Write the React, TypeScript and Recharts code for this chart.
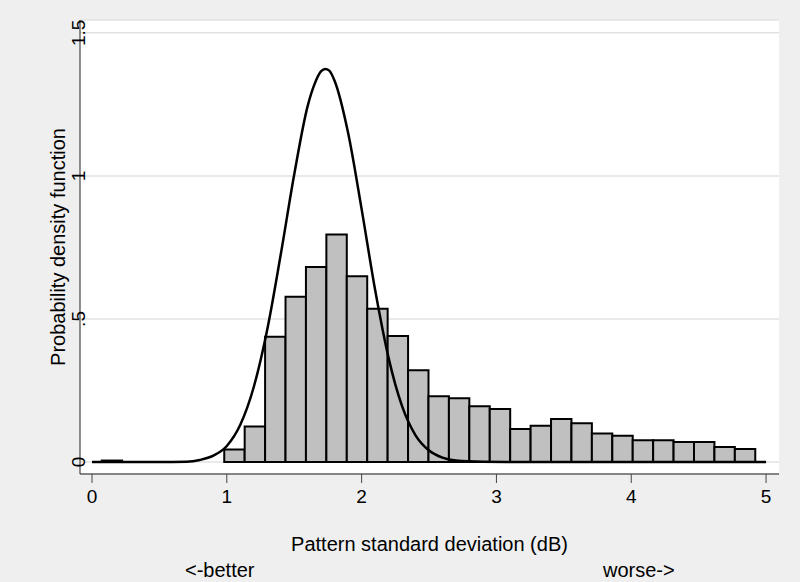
import React from 'react';
import { ComposedChart, Line, XAxis, YAxis, CartesianGrid, ReferenceArea } from 'recharts';

// Histogram bin edges (dB) and densities
const binEdges = [
  0.072, 0.2235, 0.375, 0.5265, 0.678, 0.8295, 0.981, 1.1325, 1.284, 1.4355, 1.587,
  1.7385, 1.89, 2.0415, 2.193, 2.3445, 2.496, 2.6475, 2.799, 2.9505, 3.102, 3.2535,
  3.405, 3.5565, 3.708, 3.8595, 4.011, 4.1625, 4.314, 4.4655, 4.617, 4.7685, 4.92,
];
const binHeights = [
  0.005, 0, 0, 0, 0, 0, 0.044, 0.124, 0.438, 0.578, 0.682, 0.795, 0.649, 0.536, 0.44, 0.321,
  0.23, 0.223, 0.195, 0.185, 0.115, 0.127, 0.15, 0.135, 0.1, 0.092, 0.076, 0.076, 0.07, 0.07,
  0.052, 0.045,
];

// Normal density curve
const curveX = [0, 0.5, 0.7, 0.8, 0.9, 1.0, 1.1, 1.2, 1.3, 1.4, 1.5, 1.6, 1.65, 1.7, 1.73, 1.76, 1.8, 1.9, 2.0, 2.1, 2.2, 2.3, 2.4, 2.5, 2.6, 2.7, 2.9, 3.2, 5.0];
const curveY = [0, 0, 0.001, 0.007, 0.022, 0.056, 0.13, 0.262, 0.463, 0.725, 1.005, 1.245, 1.32, 1.366, 1.374, 1.368, 1.332, 1.15, 0.884, 0.602, 0.364, 0.195, 0.093, 0.04, 0.015, 0.005, 0.001, 0, 0];

const xTicks = [0, 1, 2, 3, 4, 5];
const yTicks = [0, 0.5, 1, 1.5];
const yTickLabels = ['0', '.5', '1', '1.5'];

const xTitle = 'Pattern standard deviation (dB)';
const yTitle = 'Probability density function';
const leftNote = '<-better';
const rightNote = 'worse->';

const FONT = '"Liberation Sans", Arial, Helvetica, sans-serif';

const curveData = curveX.map((x, i) => ({ x, y: curveY[i] }));

const YTick = (props: any) => {
  const { x, y, payload } = props;
  const idx = yTicks.indexOf(payload.value);
  const cx = x - 1;
  return (
    <text
      x={cx}
      y={y}
      transform={`rotate(-90 ${cx} ${y})`}
      textAnchor="middle"
      dominantBaseline="central"
      fontSize={19}
      fontFamily={FONT}
      fill="#000"
    >
      {idx >= 0 ? yTickLabels[idx] : String(payload.value)}
    </text>
  );
};

const XTick = (props: any) => {
  const { x, y, payload } = props;
  return (
    <text x={x} y={y} dy={20} textAnchor="middle" fontSize={19} fontFamily={FONT} fill="#000">
      {String(payload.value)}
    </text>
  );
};

export default function App() {
  return (
    <div style={{ position: 'absolute', left: 0, top: 0, width: 800, height: 582, background: '#efefef' }}>
      <ComposedChart
        width={800}
        height={582}
        data={curveData}
        margin={{ top: 20, right: 21, left: 20, bottom: 78 }}
      >
        <CartesianGrid vertical={false} stroke="#e2e2e2" strokeWidth={1.5} fill="#ffffff" />
        <XAxis
          type="number"
          dataKey="x"
          domain={[-0.089, 5.096]}
          ticks={xTicks}
          allowDataOverflow
          height={30}
          tickSize={9}
          tickMargin={0}
          axisLine={{ stroke: '#222', strokeWidth: 1 }}
          tickLine={{ stroke: '#444', strokeWidth: 1 }}
          tick={<XTick />}
          interval={0}
        />
        <YAxis
          type="number"
          domain={[-0.042, 1.545]}
          ticks={yTicks}
          allowDataOverflow
          width={60}
          tickSize={0}
          tickMargin={0}
          axisLine={{ stroke: '#222', strokeWidth: 1 }}
          tickLine={false}
          tick={<YTick />}
          interval={0}
        />
        {binHeights.map((h, i) =>
          h > 0 ? (
            <ReferenceArea
              key={i}
              x1={binEdges[i]}
              x2={binEdges[i + 1]}
              y1={0}
              y2={h}
              fill="#c0c0c0"
              fillOpacity={1}
              stroke="#000"
              strokeWidth={2}
              ifOverflow="visible"
            />
          ) : null
        )}
        <Line
          type="monotone"
          dataKey="y"
          stroke="#000"
          strokeWidth={2.5}
          dot={false}
          isAnimationActive={false}
        />
      </ComposedChart>
      <svg
        width={800}
        height={582}
        style={{ position: 'absolute', left: 0, top: 0, pointerEvents: 'none' }}
      >
        <text x={429.5} y={551} textAnchor="middle" fontSize={20} fontFamily={FONT} fill="#000">
          {xTitle}
        </text>
        <text
          x={58}
          y={247}
          transform="rotate(-90 58 247)"
          textAnchor="middle"
          dominantBaseline="central"
          fontSize={20}
          fontFamily={FONT}
          fill="#000"
        >
          {yTitle}
        </text>
        <text x={185} y={577} fontSize={20} fontFamily={FONT} fill="#000">
          {leftNote}
        </text>
        <text x={603} y={577} fontSize={20} fontFamily={FONT} fill="#000">
          {rightNote}
        </text>
      </svg>
    </div>
  );
}
